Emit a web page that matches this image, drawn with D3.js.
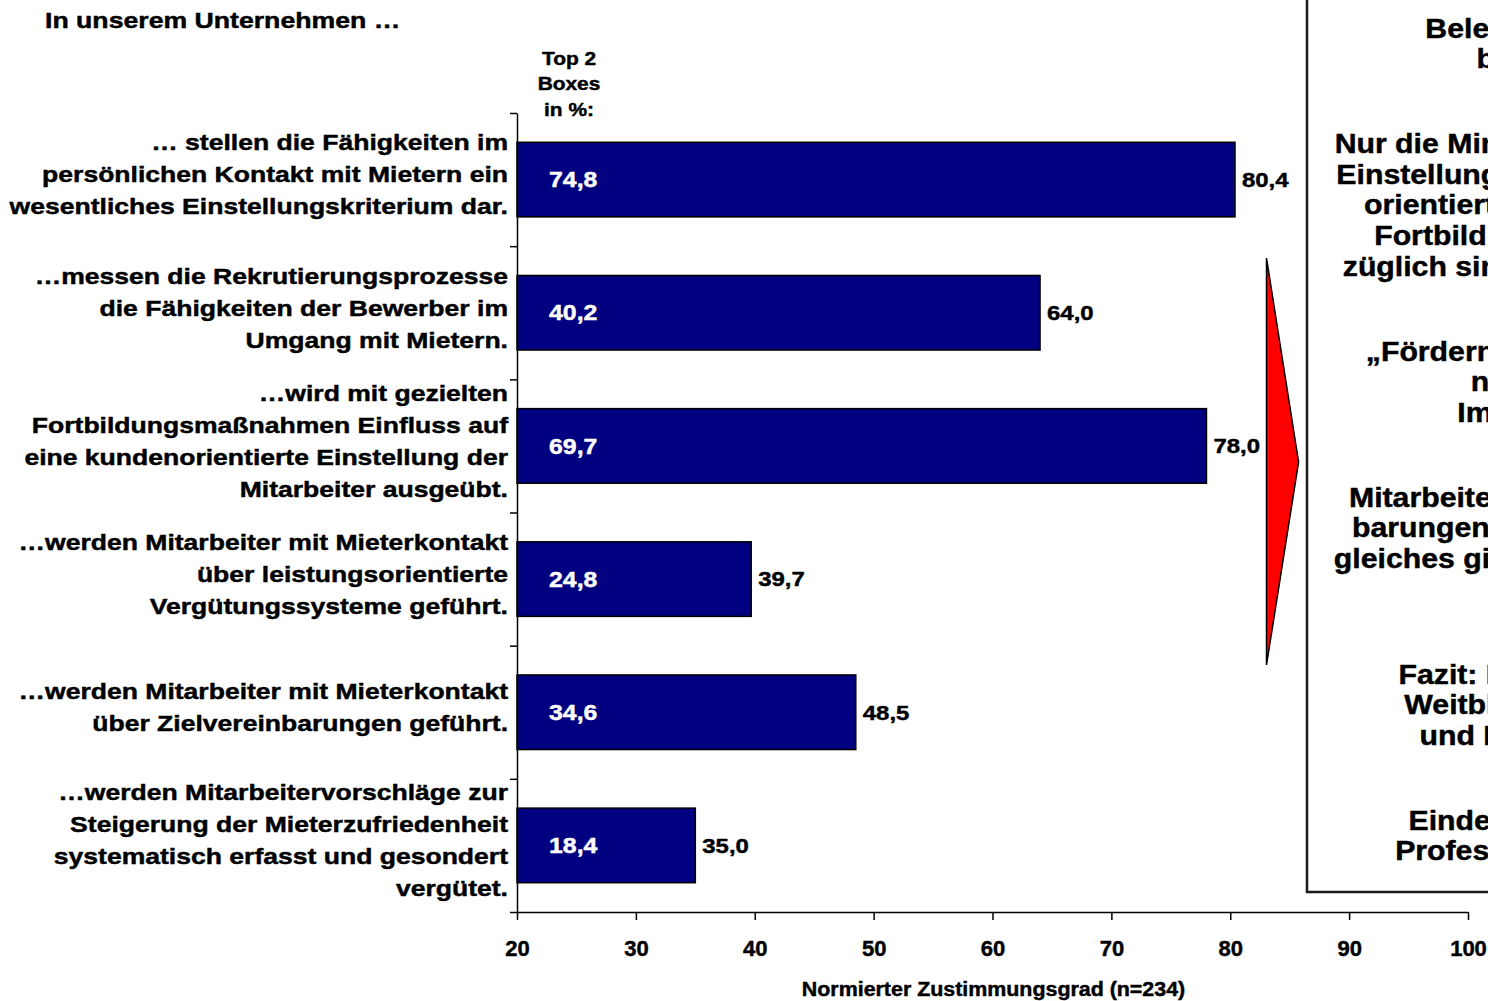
<!DOCTYPE html>
<html>
<head>
<meta charset="utf-8">
<script src="https://cdn.jsdelivr.net/npm/d3@7"></script>
<style>
  body { margin: 0; background: #fff; }
  svg { display: block; }
  text { font-family: "Liberation Sans", Arial, Helvetica, sans-serif; font-weight: bold; }
</style>
</head>
<body>
<svg id="chart" width="1488" height="1001"></svg>
<script>
// ---- data -------------------------------------------------------------
const title = "In unserem Unternehmen …";

const categories = [
  ["… stellen die Fähigkeiten im", "persönlichen Kontakt mit Mietern ein", "wesentliches Einstellungskriterium dar."],
  ["…messen die Rekrutierungsprozesse", "die Fähigkeiten der Bewerber im", "Umgang mit Mietern."],
  ["…wird mit gezielten", "Fortbildungsmaßnahmen Einfluss auf", "eine kundenorientierte Einstellung der", "Mitarbeiter ausgeübt."],
  ["…werden Mitarbeiter mit Mieterkontakt", "über leistungsorientierte", "Vergütungssysteme geführt."],
  ["…werden Mitarbeiter mit Mieterkontakt", "über Zielvereinbarungen geführt."],
  ["…werden Mitarbeitervorschläge zur", "Steigerung der Mieterzufriedenheit", "systematisch erfasst und gesondert", "vergütet."]
];

// normierter Zustimmungsgrad (bar length)
const agreement = [80.4, 64.0, 78.0, 39.7, 48.5, 35.0];
// Top-2-Boxes share in % (printed inside the bars)
const top2Boxes = [74.8, 40.2, 69.7, 24.8, 34.6, 18.4];

const xTicks = [20, 30, 40, 50, 60, 70, 80, 90, 100];
const xTitle = "Normierter Zustimmungsgrad (n=234)";
const top2Header = ["Top 2", "Boxes", "in %:"];

// summary panel on the right
const summaryBlocks = [
  ["Belegschaft wird kaum", "bedarfsgerecht."],
  ["Nur die Minderheit beeinflusst aktiv", "Einstellung der Mitarbeiter kunden-", "orientiert durch gezielte interne",
   "Fortbildungen; vergütungsbe-", "züglich sind Anreize bisher selten."],
  ["„Fördern und Fordern“ wird oft", "nicht umgesetzt.", "Impuls fehlt meist."],
  ["Mitarbeiterführung mit Zielverein-", "barungen ist eher die Ausnahme,", "gleiches gilt für leistungsorientierte", "Vergütungen."],
  ["Fazit: Es fehlt erheblich an", "Weitblick bei der Auswahl", "und Mitarbeiterführung."],
  ["Eindeutig ist eine weitere", "Professionalisierung nötig."]
];

// ---- layout -----------------------------------------------------------
const svg = d3.select("#chart");
const plot = { left: 517, right: 1468, top: 113, bottom: 912 };
const barFill = "#000080";

const x = d3.scaleLinear().domain([20, 100]).range([plot.left, plot.right]);
const y = d3.scaleBand()
  .domain(d3.range(categories.length))
  .range([plot.top, plot.bottom])
  .paddingInner(0.44)
  .paddingOuter(0.22);

const de = d3.formatLocale({ decimal: ",", thousands: ".", grouping: [3], currency: ["", " €"] });
const fmt = de.format(".1f");

// text drawn with a slight horizontal stretch, vertically centred on y
function label(g, str, tx, ty, size, sx, anchor, fill) {
  const c = fill || "#000";
  return g.append("text")
    .attr("transform", `translate(${tx},${ty}) scale(${sx},1)`)
    .attr("dy", "0.35em")
    .attr("font-size", size)
    .attr("text-anchor", anchor)
    .attr("fill", c)
    .attr("stroke", c)
    .attr("stroke-width", 0.45)
    .text(str);
}

// ---- title ------------------------------------------------------------
label(svg, title, 45, 20, 21.5, 1.24, "start");

// ---- header above the inner values ------------------------------------
top2Header.forEach((t, i) => label(svg, t, x(20) + 52, 58 + i * 25.5, 19, 1.1, "middle"));

// ---- bars -------------------------------------------------------------
svg.append("g").selectAll("rect")
  .data(agreement)
  .join("rect")
  .attr("x", x(20))
  .attr("y", (d, i) => y(i))
  .attr("width", d => x(d) - x(20))
  .attr("height", y.bandwidth())
  .attr("fill", barFill)
  .attr("stroke", "#000")
  .attr("stroke-width", 1.5);

// values at the bar ends
const valG = svg.append("g");
agreement.forEach((v, i) => label(valG, fmt(v), x(v) + 7, y(i) + y.bandwidth() / 2, 21, 1.14, "start"));

// Top-2-Boxes inside the bars
const innerG = svg.append("g");
top2Boxes.forEach((v, i) => label(innerG, fmt(v), x(20) + 32, y(i) + y.bandwidth() / 2, 22, 1.13, "start", "#fff"));

// category labels, right-aligned against the axis
const catG = svg.append("g");
categories.forEach((lines, i) => {
  const c = y(i) + y.bandwidth() / 2 - 5;
  lines.forEach((t, j) => {
    label(catG, t, plot.left - 9, c + (j - (lines.length - 1) / 2) * 32, 22.5, 1.18, "end");
  });
});

// ---- axes -------------------------------------------------------------
const yEdges = d3.scaleLinear().domain([0, categories.length]).range([plot.top, plot.bottom]);
svg.append("g")
  .attr("transform", `translate(${plot.left},0)`)
  .call(d3.axisLeft(yEdges).ticks(categories.length).tickFormat("").tickSize(7).tickSizeOuter(0))
  .call(g => g.selectAll("line, path").attr("stroke", "#000").attr("stroke-width", 1.5));

const xAxis = svg.append("g")
  .attr("transform", `translate(0,${plot.bottom})`)
  .call(d3.axisBottom(x).tickValues(xTicks).tickFormat(d3.format("d")).tickSize(8).tickSizeOuter(0));
xAxis.selectAll("line, path").attr("stroke", "#000").attr("stroke-width", 1.5);
xAxis.selectAll("text")
  .attr("y", 36).attr("dy", "0.35em")
  .attr("font-size", 22).attr("fill", "#000")
  .attr("stroke", "#000").attr("stroke-width", 0.45)
  .style("font-family", "'Liberation Sans', Arial, sans-serif").style("font-weight", "bold");

label(svg, xTitle, (x(20) + x(100)) / 2 + 1, 989, 20, 1.07, "middle");

// ---- red arrow pointing to the summary --------------------------------
const arrow = { x0: x(83.05), x1: x(85.75), top: 258, tip: 462, bottom: 665 };
svg.append("path")
  .attr("d", d3.line()([[arrow.x0, arrow.top], [arrow.x1, arrow.tip], [arrow.x0, arrow.bottom]]) + "Z")
  .attr("fill", "#ff0000")
  .attr("stroke", "#000")
  .attr("stroke-width", 1.5)
  .attr("stroke-linejoin", "miter");

// ---- summary panel ----------------------------------------------------
const box = { x: 1307, y: -6, w: 566, bottom: 892 };
svg.append("rect")
  .attr("x", box.x).attr("y", box.y)
  .attr("width", box.w).attr("height", box.bottom - box.y)
  .attr("fill", "none")
  .attr("stroke", "#1a1a1a")
  .attr("stroke-width", 2.5);

const boxCenter = box.x + box.w / 2;
const lineStep = 30.6, blockGap = 85;
let yy = 28;
const sumG = svg.append("g");
summaryBlocks.forEach(block => {
  block.forEach((t, j) => {
    label(sumG, t, boxCenter, yy, 27.5, 1.1, "middle");
    if (j < block.length - 1) yy += lineStep;
  });
  yy += blockGap;
});
</script>
</body>
</html>
